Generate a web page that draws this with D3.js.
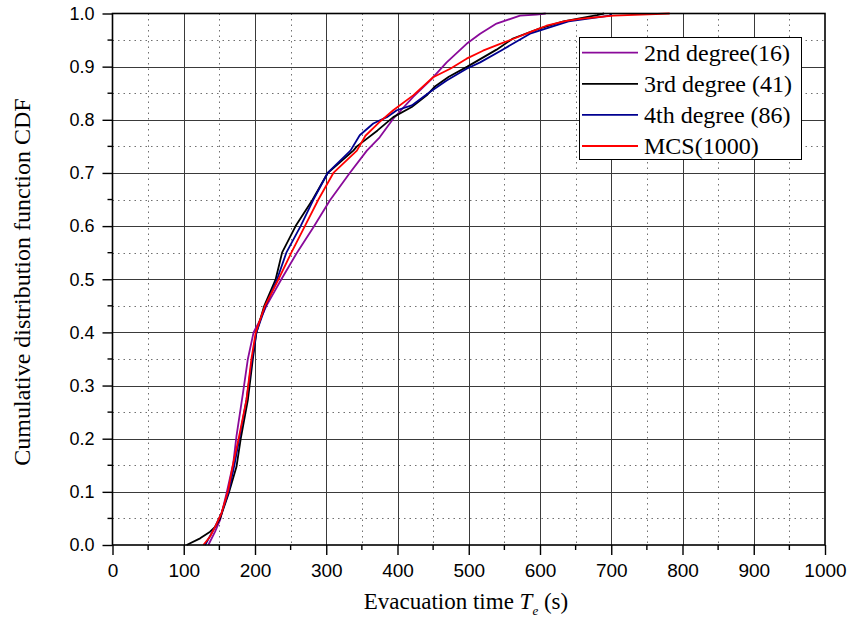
<!DOCTYPE html>
<html lang="en">
<head>
    <meta charset="UTF-8">
    <title>Evacuation time CDF</title>
    <script src="https://d3js.org/d3.v7.min.js"></script>
    <style>
        body {
            margin: 0;
            background: #ffffff;
        }
        svg {
            display: block;
        }
    </style>
</head>
<body>
    <div id="chart"></div>
    <script>
        // values: time (s) and CDF level for each curve
        const deg2Time = [134.5, 144, 151, 160, 169.5, 174, 183, 190, 198, 207, 216, 237, 258, 282, 305, 333, 357, 375, 394, 422, 446, 469, 497, 516, 539, 572, 595, 608];
        const deg2Cdf  = [0, 0.025, 0.047, 0.097, 0.154, 0.205, 0.285, 0.35, 0.4, 0.423, 0.45, 0.5, 0.548, 0.598, 0.648, 0.7, 0.742, 0.767, 0.802, 0.843, 0.874, 0.908, 0.943, 0.962, 0.981, 0.996, 0.998, 1.0];

        const deg3Time = [104, 123, 137, 144, 151, 163, 174, 180, 190, 197, 202, 213, 229, 238, 257, 281, 302, 338, 343, 372, 394, 420, 441, 452, 472, 498, 539, 562, 600, 633, 680, 690];
        const deg3Cdf  = [0, 0.0125, 0.025, 0.034, 0.05, 0.097, 0.147, 0.2, 0.273, 0.35, 0.4, 0.45, 0.5, 0.55, 0.6, 0.65, 0.7, 0.742, 0.75, 0.78, 0.805, 0.824, 0.846, 0.862, 0.881, 0.9, 0.932, 0.953, 0.972, 0.985, 0.997, 1.0];

        const deg4Time = [130, 144, 153, 163, 171, 178, 188, 196, 202, 215, 231, 244, 264, 282, 302, 334, 347, 366, 385, 399, 420, 445, 469, 497, 516, 545, 586, 640, 698, 700];
        const deg4Cdf  = [0, 0.034, 0.06, 0.1, 0.15, 0.2, 0.273, 0.35, 0.4, 0.45, 0.5, 0.55, 0.6, 0.65, 0.7, 0.742, 0.771, 0.793, 0.805, 0.818, 0.827, 0.852, 0.874, 0.896, 0.908, 0.93, 0.962, 0.985, 0.996, 1.0];

        const mcsTime = [127.5, 137, 144, 153, 162.5, 169.5, 177, 188, 195, 201, 214, 233, 251, 270, 289, 310, 343, 355, 375, 394, 422, 450, 474, 497, 520, 544, 562, 586, 609, 637, 656, 703, 782];
        const mcsCdf  = [0, 0.016, 0.034, 0.06, 0.103, 0.154, 0.2, 0.273, 0.35, 0.4, 0.45, 0.5, 0.55, 0.6, 0.65, 0.7, 0.742, 0.77, 0.796, 0.818, 0.846, 0.88, 0.896, 0.915, 0.93, 0.943, 0.952, 0.965, 0.977, 0.986, 0.99, 0.996, 1.0];

        const seriesNames = ["2nd degree(16)", "3rd degree (41)", "4th degree (86)", "MCS(1000)"];
        const seriesColors = ["#8a0a9a", "#000000", "#000090", "#ff0000"];
        const seriesTimes = [deg2Time, deg3Time, deg4Time, mcsTime];
        const seriesCdfs = [deg2Cdf, deg3Cdf, deg4Cdf, mcsCdf];

        const xTickValues = d3.range(0, 1001, 100);
        const yTickValues = d3.range(0, 11).map(i => i / 10);

        const width = 851, height = 629;
        const plotLeft = 112.5, plotRight = 825, plotTop = 13.5, plotBottom = 545;
        const serif = "'Liberation Serif', 'Times New Roman', serif";
        const sans = "'Liberation Sans', Arial, sans-serif";

        const x = d3.scaleLinear().domain([0, 1000]).range([plotLeft, plotRight]);
        const y = d3.scaleLinear().domain([0, 1]).range([plotBottom, plotTop]);
        const snap = v => Math.round(v) + 0.5;

        const svg = d3.select("#chart").append("svg")
            .attr("width", width)
            .attr("height", height);

        // minor dotted grid
        const minorX = d3.range(50, 1000, 100);
        const minorY = d3.range(0, 10).map(i => i / 10 + 0.05);
        svg.append("g")
            .attr("stroke", "#707070")
            .attr("stroke-dasharray", "1.5,4")
            .selectAll("line")
            .data(minorX)
            .join("line")
            .attr("x1", d => snap(x(d))).attr("x2", d => snap(x(d)))
            .attr("y1", plotTop).attr("y2", plotBottom);
        svg.append("g")
            .attr("stroke", "#707070")
            .attr("stroke-dasharray", "1.5,4")
            .selectAll("line")
            .data(minorY)
            .join("line")
            .attr("y1", d => snap(y(d))).attr("y2", d => snap(y(d)))
            .attr("x1", plotLeft).attr("x2", plotRight);

        // major grid
        svg.append("g")
            .attr("stroke", "#3a3a3a")
            .selectAll("line")
            .data(xTickValues.slice(1, -1))
            .join("line")
            .attr("x1", d => snap(x(d))).attr("x2", d => snap(x(d)))
            .attr("y1", plotTop).attr("y2", plotBottom);
        svg.append("g")
            .attr("stroke", "#3a3a3a")
            .selectAll("line")
            .data(yTickValues.slice(1, -1))
            .join("line")
            .attr("y1", d => snap(y(d))).attr("y2", d => snap(y(d)))
            .attr("x1", plotLeft).attr("x2", plotRight);

        // curves
        const line = d3.line()
            .x(d => x(d[0]))
            .y(d => y(d[1]));

        seriesNames.forEach((name, i) => {
            const pts = seriesTimes[i].map((t, j) => [t, seriesCdfs[i][j]]);
            svg.append("path")
                .datum(pts)
                .attr("fill", "none")
                .attr("stroke", seriesColors[i])
                .attr("stroke-width", 1.8)
                .attr("stroke-linejoin", "round")
                .attr("d", line);
        });

        // axes
        const xAxis = d3.axisBottom(x)
            .tickValues(xTickValues)
            .tickSize(10)
            .tickPadding(9)
            .tickFormat(d3.format("d"));
        const gx = svg.append("g")
            .attr("transform", `translate(0,${plotBottom})`)
            .call(xAxis);
        gx.select(".domain").remove();
        gx.selectAll("line").attr("stroke", "#000").attr("stroke-width", 1.4);
        gx.selectAll("text")
            .attr("font-family", sans)
            .attr("font-size", 19)
            .attr("fill", "#000");
        svg.append("g")
            .attr("stroke", "#000")
            .attr("stroke-width", 1.4)
            .selectAll("line")
            .data(minorX)
            .join("line")
            .attr("x1", d => x(d)).attr("x2", d => x(d))
            .attr("y1", plotBottom).attr("y2", plotBottom + 5);

        const yAxis = d3.axisLeft(y)
            .tickValues(yTickValues)
            .tickSize(10)
            .tickPadding(8)
            .tickFormat(d3.format(".1f"));
        const gy = svg.append("g")
            .attr("transform", `translate(${plotLeft},0)`)
            .call(yAxis);
        gy.select(".domain").remove();
        gy.selectAll("line").attr("stroke", "#000").attr("stroke-width", 1.4);
        gy.selectAll("text")
            .attr("font-family", sans)
            .attr("font-size", 18)
            .attr("fill", "#000");
        svg.append("g")
            .attr("stroke", "#000")
            .attr("stroke-width", 1.4)
            .selectAll("line")
            .data(minorY)
            .join("line")
            .attr("y1", d => y(d)).attr("y2", d => y(d))
            .attr("x1", plotLeft - 5).attr("x2", plotLeft);

        // frame
        svg.append("rect")
            .attr("x", plotLeft).attr("y", plotTop)
            .attr("width", plotRight - plotLeft).attr("height", plotBottom - plotTop)
            .attr("fill", "none")
            .attr("stroke", "#000")
            .attr("stroke-width", 1.6);

        // axis titles
        const xTitle = svg.append("text")
            .attr("x", 466).attr("y", 609)
            .attr("text-anchor", "middle")
            .attr("font-family", serif)
            .attr("font-size", 23)
            .attr("fill", "#000");
        xTitle.append("tspan").text("Evacuation time ");
        xTitle.append("tspan").attr("font-style", "italic").text("T");
        xTitle.append("tspan").attr("font-style", "italic").attr("font-size", 13).attr("dy", 6).text("e");
        xTitle.append("tspan").attr("dy", -6).text(" (s)");

        svg.append("text")
            .attr("transform", "translate(30,282) rotate(-90)")
            .attr("text-anchor", "middle")
            .attr("font-family", serif)
            .attr("font-size", 24)
            .attr("fill", "#000")
            .text("Cumulative distribution function CDF");

        // legend
        const legend = svg.append("g");
        legend.append("rect")
            .attr("x", 579.5).attr("y", 37.5)
            .attr("width", 222).attr("height", 122)
            .attr("fill", "#fff")
            .attr("stroke", "#000")
            .attr("stroke-width", 1);
        seriesNames.forEach((name, i) => {
            const ry = 52.7 + i * 31.1;
            legend.append("line")
                .attr("x1", 582).attr("x2", 638)
                .attr("y1", ry).attr("y2", ry)
                .attr("stroke", seriesColors[i])
                .attr("stroke-width", 1.8);
            legend.append("text")
                .attr("x", 644).attr("y", ry + 8)
                .attr("font-family", serif)
                .attr("font-size", 24)
                .attr("fill", "#000")
                .text(name);
        });
    </script>
</body>
</html>
